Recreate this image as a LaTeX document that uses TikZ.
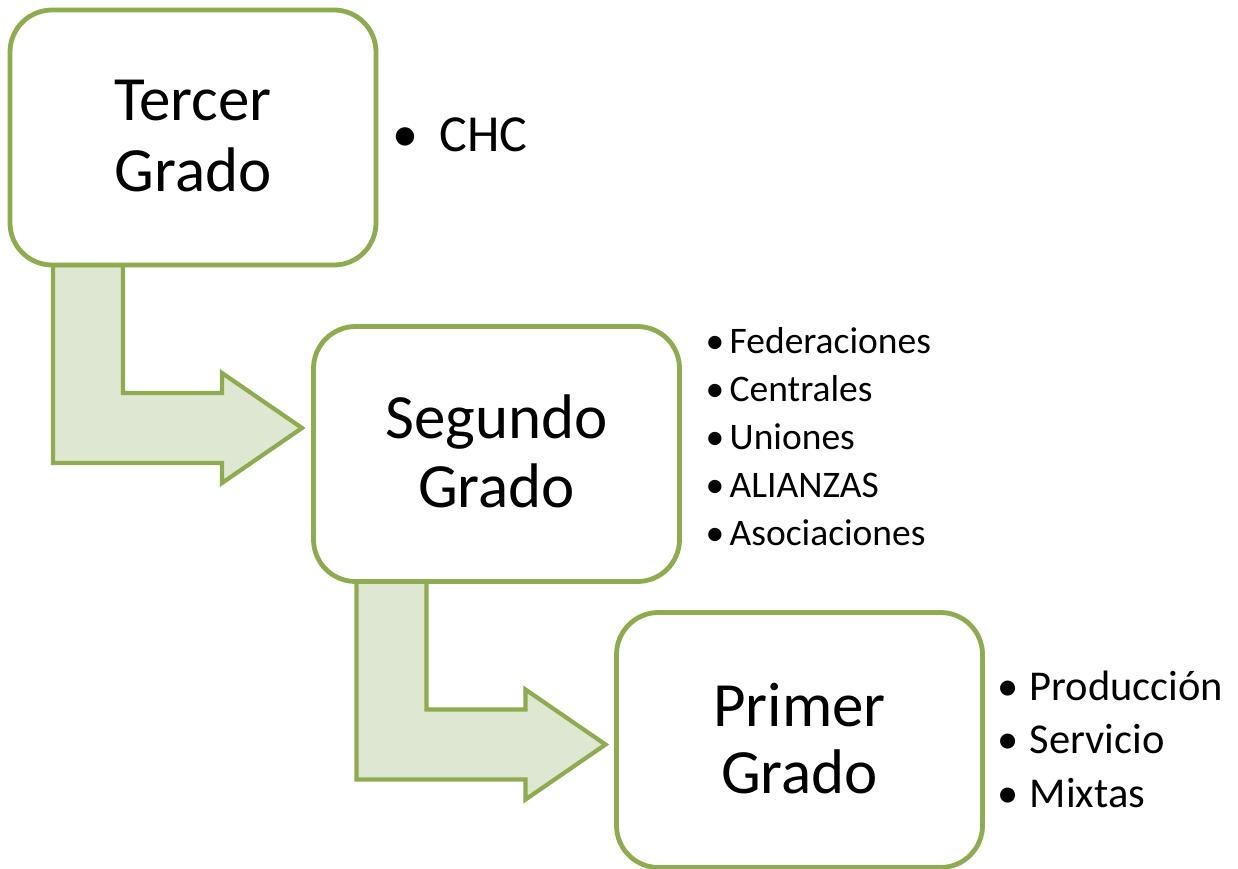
\documentclass[tikz,border=0pt]{standalone}
\usepackage{fontspec}
\setmainfont{Carlito}
\usetikzlibrary{calc}
\definecolor{gborder}{RGB}{142,171,80}
\definecolor{gfill}{RGB}{222,231,209}
\begin{document}
\begin{tikzpicture}[x=1pt,y=-1pt,
  gradebox/.style={draw=gborder, line width=4.8pt, fill=white, rounded corners=42pt,
    minimum width=366pt, minimum height=255pt, inner sep=0pt, outer sep=0pt},
  bentarrow/.style={draw=gborder, line width=4.2pt, fill=gfill, line join=miter},
  title/.style={font=\fontsize{63}{70}\selectfont, anchor=base, inner sep=0pt},
  bulA/.style={font=\fontsize{52}{60}\selectfont, inner sep=0pt},
  bulB/.style={font=\fontsize{37.5}{48}\selectfont, inner sep=0pt},
  bulC/.style={font=\fontsize{42.5}{54}\selectfont, inner sep=0pt}]
\useasboundingbox (0,0) rectangle (1238,869);
% box centres and arrow anchors
\path (193,137.5) coordinate (c1) (496.5,454) coordinate (c2) (799.5,740) coordinate (c3);
\path ($(c1)+(-183,127.5)$) coordinate (b1sw) ($(c2)+(-183,127.5)$) coordinate (b2sw);
% bent arrows
\foreach \b in {b1sw,b2sw}{
  \draw[bentarrow] ($(\b)+(43,0)$) -- ($(\b)+(43,198)$) -- ($(\b)+(212,198)$)
    -- ($(\b)+(212,218)$) -- ($(\b)+(292,163)$) -- ($(\b)+(212,108)$)
    -- ($(\b)+(212,128)$) -- ($(\b)+(113,128)$) -- ($(\b)+(113,0)$) -- cycle;
}
\node[gradebox] (b1) at (c1) {};
\node[gradebox] (b2) at (c2) {};
\node[gradebox] (b3) at (c3) {};
% titles
\node[title] (t1a) at ($(b1.center)+(0,-16.5)$) {Tercer};
\node[title] (t1b) at ($(b1.center)+(0,53.5)$) {Grado};
\node[title] (t2a) at ($(b2.center)+(0,-16)$) {Segundo};
\node[title] (t2b) at ($(b2.center)+(0,53)$) {Grado};
\node[title] (t3a) at ($(b3.center)+(0,-14)$) {Primer};
\node[title] (t3b) at ($(b3.center)+(0,53)$) {Grado};
% list 1
\node[bulA, anchor=base] (p1) at (405,152) {•};
\node[bulA, anchor=base west] (l1) at (439.5,152) {CHC};
% list 2
\foreach \t [count=\i from 0] in {Federaciones,Centrales,Uniones,ALIANZAS,Asociaciones}{
  \node[bulB, anchor=base] (q\i) at (715,353+48*\i) {•};
  \node[bulB, anchor=base west] (m\i) at (729.5,353+48*\i) {\t};
}
% list 3
\foreach \t [count=\i from 0] in {Producción,Servicio,Mixtas}{
  \node[bulC, anchor=base] (r\i) at (1008,700+53.5*\i) {•};
  \node[bulC, anchor=base west] (n\i) at (1029.5,700+53.5*\i) {\t};
}
\end{tikzpicture}
\end{document}
